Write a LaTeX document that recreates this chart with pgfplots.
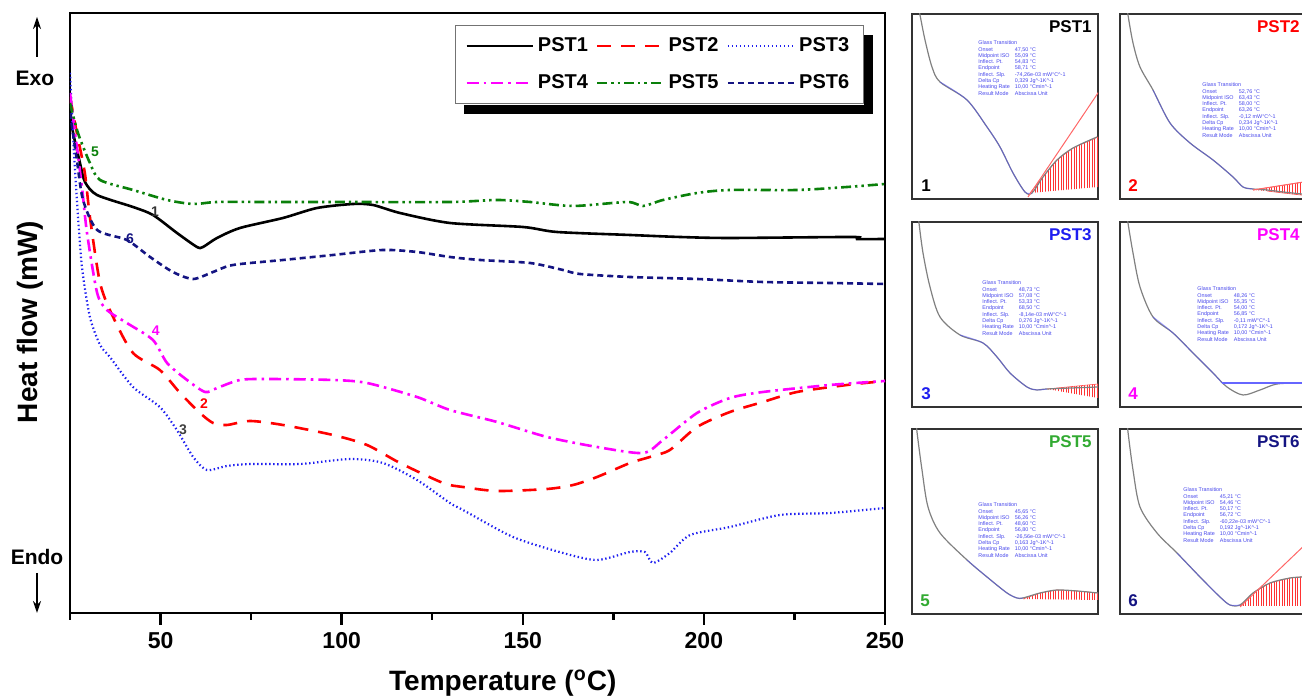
\documentclass[border=0pt]{standalone}
\usepackage{pgfplots}
\pgfplotsset{compat=1.18}
\usepackage{fontspec}
\setmainfont{Liberation Sans}
\usetikzlibrary{arrows.meta,patterns.meta}
\definecolor{cred}{RGB}{255,0,0}
\definecolor{cblue}{RGB}{30,30,240}
\definecolor{cmag}{RGB}{255,0,255}
\definecolor{cgreen}{RGB}{10,128,10}
\definecolor{cgreenL}{RGB}{50,170,50}
\definecolor{cnavy}{RGB}{20,20,130}
\definecolor{ctxt}{RGB}{70,70,235}

\newcommand{\gtt}[7]{{\fontsize{2.7}{3.15}\selectfont\color{ctxt}%
\begin{tabular}{@{}l@{\hspace{2.5pt}}l@{}}
\multicolumn{2}{@{}l@{}}{#1}\\
Onset & #2 °C\\
Midpoint ISO & #3 °C\\
Inflect. Pt. & #4 °C\\
Endpoint & #5 °C\\
Inflect. Slp. & #6 mW°C\textasciicircum-1\\
Delta Cp & #7 Jg\textasciicircum-1K\textasciicircum-1\\
Heating Rate & 10,00 °Cmin\textasciicircum-1\\
Result Mode & Abscissa Unit
\end{tabular}}}

\pgfplotsset{inset/.style={scale only axis, anchor=south west, width=93pt, height=92.5pt,
  xtick=\empty, ytick=\empty, axis line style={line width=1pt, black!80}, no markers, clip=true},
  gcurve/.style={black!50, line width=0.6pt, smooth, tension=0.5},
  bcurve/.style={blue!70, line width=0.5pt, opacity=0.5, smooth, tension=0.5},
  rline/.style={red!60, line width=0.5pt},
  hatch/.style={draw=red!70, line width=0.3pt, pattern={Lines[angle=90,distance=1.3pt,line width=0.3pt]}, pattern color=red!80}}
\tikzset{ititle/.style={anchor=north east, inner sep=0pt, font=\fontsize{8.5}{9}\selectfont\bfseries},
  inum/.style={anchor=south west, inner sep=0pt, font=\fontsize{8.5}{9}\selectfont\bfseries},
  itext/.style={anchor=north west, inner sep=0pt}}

\begin{document}
\begin{tikzpicture}
\useasboundingbox (0,0) rectangle (651pt,349.5pt);
\clip (0,0) rectangle (651pt,349.5pt);

% ---------------- main axis ----------------
\begin{axis}[
  at={(35pt,43pt)}, anchor=south west, scale only axis, width=407.5pt, height=300pt,
  xmin=25, xmax=250, ymin=0, ymax=600,
  axis line style={line width=1.2pt},
  xtick={50,100,150,200,250}, minor xtick={25,75,125,175,225},
  xtick pos=bottom, ytick=\empty, tick align=outside,
  major tick length=6pt, minor tick length=3.5pt,
  tick style={line width=1.2pt, black},
  tick label style={font=\fontsize{11.5}{12}\selectfont\bfseries},
  /pgf/number format/assume math mode=true,
  xlabel={Temperature (\textsuperscript{o}C)},
  ylabel={Heat flow (mW)},
  xlabel style={at={(axis description cs:0.531,-0.117)}, anchor=center, font=\fontsize{14}{14}\selectfont\bfseries},
  ylabel style={at={(axis description cs:-0.049,0.485)}, anchor=center, font=\fontsize{14}{14}\selectfont\bfseries},
  no markers,
  every axis plot/.append style={line width=1.3pt, smooth, tension=0.45},
  legend columns=3,
  legend cell align=left,
  legend image code/.code={\draw[#1] (0pt,0pt) -- (33pt,0pt);},
  legend style={name=leg, at={(axis description cs:0.974,0.98)}, anchor=north east,
    draw=black!55, line width=0.6pt, fill=white,
    font=\fontsize{10}{11}\selectfont\bfseries,
    row sep=6pt, inner xsep=5pt, inner ysep=4pt,
    nodes={inner xsep=2pt},
    /tikz/every even column/.append style={column sep=2pt}},
]
\addplot[black] coordinates {(25,513) (25.55,486) (27.76,450) (29.14,431) (32.45,418) (42.39,406) (47.91,398) (54.54,380) (60.06,366) (61.72,366) (65.58,375) (71.93,385) (83.80,395) (93.19,405) (103.13,409) (108.65,408) (116.10,400) (129.91,390) (150.06,386) (159.44,381) (179.60,378) (193.40,376) (207.21,375) (241.16,376) (242.27,374) (250,374)};
\addlegendentry{PST1}
\addplot[cred, dash pattern=on 7pt off 5pt] coordinates {(25,516) (26.9,480) (29.1,440) (30.5,396) (33.3,330) (36.9,296) (42.4,260) (49.8,243) (55.4,220) (60.9,200) (64.5,190) (68.3,188) (74.7,192) (83.8,188) (97.6,178) (107.0,168) (116.1,150) (128.0,130) (133.5,126) (142.9,122) (156.7,124) (163.9,128) (170.5,136) (179.6,150) (185.1,156) (190.6,163) (198.1,186) (207.2,201) (216.3,211) (225.7,221) (239.5,228) (250,232)};
\addlegendentry{PST2}
\addplot[cblue, line width=1.1pt, dash pattern=on 0.7pt off 1.3pt] coordinates {(25,540) (25.8,480) (26.9,413) (28.3,346) (30.5,296) (33.3,268) (36.0,256) (42.4,226) (49.8,206) (54.5,183) (59.0,156) (62.8,143) (68.3,147) (74.7,149) (88.5,149) (102.3,154) (111.4,150) (120.8,133) (129.9,110) (133.5,103) (147.3,76) (161.1,60) (170.5,53) (179.6,61) (183.7,61) (185.9,50) (190.6,60) (196.2,78) (207.2,86) (221.0,98) (234.8,100) (250,105)};
\addlegendentry{PST3}
\addplot[cmag, dash pattern=on 6pt off 2.5pt on 1.3pt off 2.5pt] coordinates {(25,520) (26.4,480) (28.3,426) (29.7,380) (32.5,320) (35.2,303) (40.7,290) (47.9,273) (51.8,250) (57.3,233) (62.3,221) (65.6,225) (71.9,233) (79.4,234) (97.6,233) (107.0,230) (120.8,216) (129.9,203) (142.9,191) (156.7,176) (170.5,166) (183.2,160) (188.7,173) (198.1,200) (207.2,215) (216.3,221) (234.8,228) (250,232)};
\addlegendentry{PST4}
\addplot[cgreen, dash pattern=on 5pt off 2pt on 1.2pt off 2pt on 1.2pt off 2pt] coordinates {(25,510) (27.2,480) (30.5,450) (33.3,433) (42.4,423) (51.8,413) (59.0,409) (65.6,411) (79.4,411) (97.6,411) (129.9,411) (142.9,413) (152.0,411) (163.9,407) (178.8,411) (183.2,407) (188.7,413) (198.1,420) (207.2,423) (225.7,423) (239.5,426) (250,429)};
\addlegendentry{PST5}
\addplot[cnavy, dash pattern=on 3pt off 2pt] coordinates {(25,500) (26.9,453) (28.6,413) (32.5,383) (40.7,373) (47.1,356) (53.4,341) (59.0,334) (64.5,341) (70.0,348) (83.8,353) (97.6,358) (111.4,363) (120.8,361) (129.9,356) (138.2,353) (152.0,350) (161.1,343) (165.8,339) (179.6,336) (198.1,334) (216.3,331) (234.8,330) (250,329)};
\addlegendentry{PST6}
\node[font=\fontsize{7}{7}\selectfont\bfseries, text=black!80] at (axis cs:48.5,401) {1};
\node[font=\fontsize{7}{7}\selectfont\bfseries, text=cred] at (axis cs:62.0,209) {2};
\node[font=\fontsize{7}{7}\selectfont\bfseries, text=black!75] at (axis cs:56.2,183) {3};
\node[font=\fontsize{7}{7}\selectfont\bfseries, text=cmag] at (axis cs:48.7,282) {4};
\node[font=\fontsize{7}{7}\selectfont\bfseries, text=cgreen] at (axis cs:31.9,461) {5};
\node[font=\fontsize{7}{7}\selectfont\bfseries, text=cnavy] at (axis cs:41.6,374) {6};
\end{axis}
% legend shadow (L-shaped, outside the legend box)
\fill[black] ([xshift=4.5pt,yshift=-5pt]leg.south west) rectangle ([xshift=4.5pt,yshift=-0.3pt]leg.south east);
\fill[black] ([xshift=0.3pt,yshift=-5pt]leg.north east) rectangle ([xshift=4.5pt,yshift=-5pt]leg.south east);

% Exo / Endo
\node[font=\fontsize{10.5}{11}\selectfont\bfseries] at (17.5pt,310.5pt) {Exo};
\draw[-{Stealth[length=6pt,width=4pt]}, line width=0.7pt] (18.5pt,321pt) -- (18.5pt,341pt);
\node[font=\fontsize{10.5}{11}\selectfont\bfseries] at (18.5pt,71pt) {Endo};
\draw[-{Stealth[length=6pt,width=4pt]}, line width=0.7pt] (18.5pt,63pt) -- (18.5pt,43pt);

% ---------------- insets ----------------
% Panel 1
\begin{axis}[inset, at={(456pt,250pt)}, xmin=912, xmax=1098, ymin=-199, ymax=-14]
\addplot[hatch] coordinates {(1030,-193) (1043,-177) (1057,-160) (1073,-148) (1098,-137) (1098,-187)};
\addplot[gcurve] coordinates {(918,-5) (920,-15) (925,-40) (932,-67) (940,-82) (967,-100) (987,-127) (1000,-147) (1013,-173) (1025,-192) (1032,-193) (1043,-177) (1057,-160) (1073,-148) (1097,-137)};
\addplot[bcurve] coordinates {(940,-82) (967,-100) (987,-127) (1000,-147) (1013,-173) (1025,-192) (1032,-193)};
\addplot[rline] coordinates {(1028,-197) (1100,-90)};
\node[ititle] at (axis cs:1092,-20) {PST1};
\node[inum] at (axis cs:921,-192) {1};
\node[itext] at (axis cs:978,-40) {\gtt{Glass Transition}{47,50}{55,09}{54,83}{58,71}{-74,26e-03}{0,329}};
\end{axis}
% Panel 2
\begin{axis}[inset, at={(560pt,250pt)}, xmin=1120, xmax=1306, ymin=-199, ymax=-14]
\addplot[hatch] coordinates {(1253,-190) (1310,-181) (1310,-196) (1283,-193) (1267,-191)};
\addplot[gcurve] coordinates {(1127,-5) (1128,-15) (1133,-43) (1140,-67) (1153,-90) (1170,-123) (1190,-143) (1213,-160) (1233,-177) (1243,-187) (1253,-189) (1267,-190) (1283,-192) (1302,-194) (1310,-195)};
\addplot[bcurve] coordinates {(1153,-90) (1170,-123) (1190,-143) (1213,-160) (1233,-177) (1243,-187) (1253,-189)};
\addplot[rline] coordinates {(1253,-190) (1310,-181)};
\node[ititle, text=cred] at (axis cs:1300,-20) {PST2};
\node[inum, text=cred] at (axis cs:1128,-192) {2};
\node[itext] at (axis cs:1202,-82) {\gtt{Glass Transition}{52,76}{63,43}{58,00}{63,26}{-0,12}{0,234}};
\end{axis}
% Panel 3
\begin{axis}[inset, at={(456pt,146pt)}, xmin=912, xmax=1098, ymin=-407, ymax=-222]
\addplot[hatch] coordinates {(1047,-389) (1098,-384) (1098,-398)};
\addplot[gcurve] coordinates {(918,-212) (919,-223) (923,-253) (930,-287) (940,-317) (960,-335) (983,-343) (997,-357) (1010,-373) (1027,-387) (1037,-390) (1047,-389) (1098,-387)};
\addplot[bcurve] coordinates {(960,-335) (983,-343) (997,-357) (1010,-373) (1027,-387) (1037,-390) (1047,-389)};
\node[ititle, text=cblue] at (axis cs:1092,-228) {PST3};
\node[inum, text=cblue] at (axis cs:921,-400) {3};
\node[itext] at (axis cs:982,-280) {\gtt{Glass Transition}{48,73}{57,08}{53,33}{68,50}{-8,14e-03}{0,276}};
\end{axis}
% Panel 4
\begin{axis}[inset, at={(560pt,146pt)}, xmin=1120, xmax=1306, ymin=-407, ymax=-222]
\addplot[gcurve] coordinates {(1127,-212) (1128,-223) (1133,-253) (1140,-287) (1153,-317) (1173,-333) (1193,-353) (1213,-373) (1227,-387) (1243,-395) (1260,-390) (1277,-384) (1302,-383) (1310,-383)};
\addplot[bcurve] coordinates {(1153,-317) (1173,-333) (1193,-353) (1213,-373) (1222,-383)};
\addplot[blue!60, line width=0.6pt] coordinates {(1222,-383) (1310,-383)};
\node[ititle, text=cmag] at (axis cs:1300,-228) {PST4};
\node[inum, text=cmag] at (axis cs:1128,-400) {4};
\node[itext] at (axis cs:1197,-286) {\gtt{Glass Transition}{48,26}{55,35}{54,00}{56,85}{-0,11}{0,172}};
\end{axis}
% Panel 5
\begin{axis}[inset, at={(456pt,42.5pt)}, xmin=912, xmax=1098, ymin=-614, ymax=-429]
\addplot[hatch] coordinates {(1023,-599) (1040,-593) (1057,-590) (1077,-591) (1098,-593) (1098,-600)};
\addplot[gcurve] coordinates {(916,-419) (917,-432) (922,-470) (928,-507) (940,-533) (967,-560) (987,-577) (1007,-593) (1017,-598) (1023,-598) (1040,-593) (1057,-590) (1077,-591) (1098,-593)};
\addplot[bcurve] coordinates {(967,-560) (987,-577) (1007,-593) (1017,-598) (1023,-598)};
\node[ititle, text=cgreenL] at (axis cs:1092,-435) {PST5};
\node[inum, text=cgreenL] at (axis cs:920,-607) {5};
\node[itext] at (axis cs:978,-502) {\gtt{Glass Transition}{45,65}{56,26}{48,60}{56,80}{-26,56e-03}{0,163}};
\end{axis}
% Panel 6
\begin{axis}[inset, at={(560pt,42.5pt)}, xmin=1120, xmax=1306, ymin=-614, ymax=-429]
\addplot[hatch] coordinates {(1240,-606) (1253,-593) (1270,-583) (1290,-578) (1310,-576) (1310,-606)};
\addplot[gcurve] coordinates {(1127,-419) (1128,-432) (1133,-470) (1140,-507) (1157,-533) (1177,-553) (1200,-577) (1220,-597) (1230,-605) (1240,-605) (1253,-593) (1270,-583) (1290,-578) (1302,-577) (1310,-576)};
\addplot[bcurve] coordinates {(1177,-553) (1200,-577) (1220,-597) (1230,-605) (1240,-605)};
\addplot[rline] coordinates {(1240,-607) (1310,-540)};
\node[ititle, text=cnavy] at (axis cs:1300,-435) {PST6};
\node[inum, text=cnavy] at (axis cs:1128,-607) {6};
\node[itext] at (axis cs:1183,-487) {\gtt{Glass Transition}{45,21}{54,46}{50,17}{56,72}{-60,22e-03}{0,192}};
\end{axis}
\end{tikzpicture}
\end{document}
